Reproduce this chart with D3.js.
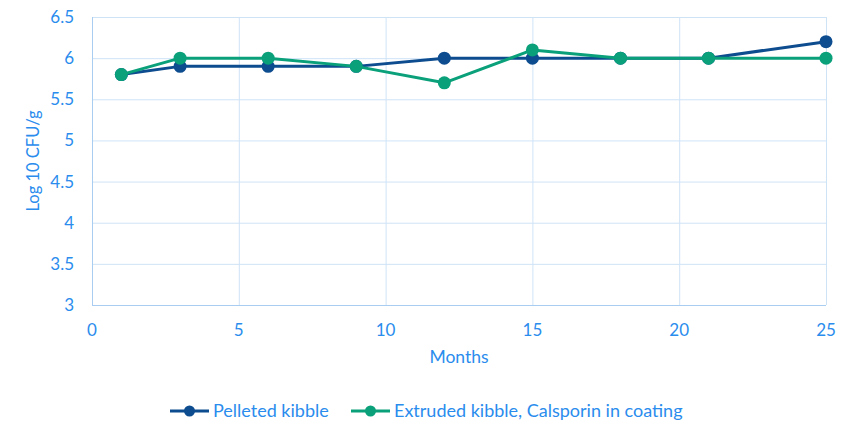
<!DOCTYPE html>
<html>
<head>
<meta charset="utf-8">
<script src="https://cdn.jsdelivr.net/npm/d3@7"></script>
<style>
  body { margin: 0; background: #fff; }
  text { font-family: Lato, "Open Sans", sans-serif; fill: #2a8ced; }
</style>
</head>
<body>
<div id="chart"></div>
<script>
// data
const months = [1, 3, 6, 9, 12, 15, 18, 21, 25];
const pelleted = [5.8, 5.9, 5.9, 5.9, 6.0, 6.0, 6.0, 6.0, 6.2];
const extruded = [5.8, 6.0, 6.0, 5.9, 5.7, 6.1, 6.0, 6.0, 6.0];
const seriesNames = ['Pelleted kibble', 'Extruded kibble, Calsporin in coating'];
const seriesColors = ['#0d4c8f', '#0aa07a'];
const xTicks = [0, 5, 10, 15, 20, 25];
const yTicks = [3, 3.5, 4, 4.5, 5, 5.5, 6, 6.5];

const W = 850, H = 427;
const m = {left: 92, right: 24, top: 17, bottom: 122};

const svg = d3.select('#chart').append('svg')
  .attr('width', W).attr('height', H);

const x = d3.scaleLinear().domain([0, 25]).range([m.left, W - m.right]);
const y = d3.scaleLinear().domain([3, 6.5]).range([H - m.bottom, m.top]);

const grid = svg.append('g');
grid.selectAll('.hg').data(yTicks).enter().append('line')
  .attr('x1', x(0)).attr('x2', x(25))
  .attr('y1', d => y(d) + 0.5).attr('y2', d => y(d) + 0.5)
  .attr('stroke', '#cfe3f7').attr('stroke-width', 1);
grid.selectAll('.vg').data(xTicks).enter().append('line')
  .attr('x1', d => x(d) + 0.5).attr('x2', d => x(d) + 0.5)
  .attr('y1', y(3)).attr('y2', y(6.5))
  .attr('stroke', d => d === 0 ? '#a9cdf0' : '#cfe3f7').attr('stroke-width', 1);
// bottom axis line
grid.append('line')
  .attr('x1', x(0)).attr('x2', x(25))
  .attr('y1', y(3) + 0.5).attr('y2', y(3) + 0.5)
  .attr('stroke', '#a9cdf0');

// tick labels
svg.selectAll('.yl').data(yTicks).enter().append('text')
  .attr('x', 74).attr('y', d => y(d) + 6)
  .attr('text-anchor', 'end').attr('font-size', 17)
  .text(d => d);
svg.selectAll('.xl').data(xTicks).enter().append('text')
  .attr('x', d => x(d)).attr('y', 336)
  .attr('text-anchor', 'middle').attr('font-size', 17)
  .text(d => d);

svg.append('text')
  .attr('transform', `translate(39, ${(y(3) + y(6.5)) / 2}) rotate(-90)`)
  .attr('text-anchor', 'middle').attr('font-size', 16.5)
  .text('Log 10 CFU/g');
svg.append('text')
  .attr('x', (x(0) + x(25)) / 2).attr('y', 363)
  .attr('text-anchor', 'middle').attr('font-size', 17.5)
  .text('Months');

const line = d3.line().x(d => x(d[0])).y(d => y(d[1]));
[pelleted, extruded].forEach((vals, i) => {
  const pts = months.map((mo, j) => [mo, vals[j]]);
  const g = svg.append('g');
  g.append('path').datum(pts)
    .attr('d', line).attr('fill', 'none')
    .attr('stroke', seriesColors[i]).attr('stroke-width', 3)
    .attr('stroke-linejoin', 'round');
  g.selectAll('circle').data(pts).enter().append('circle')
    .attr('cx', d => x(d[0])).attr('cy', d => y(d[1]))
    .attr('r', 6.5).attr('fill', seriesColors[i]);
});

// legend
const legX = [170, 351];
seriesNames.forEach((name, i) => {
  const lg = svg.append('g').attr('transform', `translate(${legX[i]}, 411)`);
  lg.append('line').attr('x1', 0).attr('x2', 39)
    .attr('stroke', seriesColors[i]).attr('stroke-width', 3);
  lg.append('circle').attr('cx', 19.5).attr('r', 5.5).attr('fill', seriesColors[i]);
  lg.append('text').attr('x', 43).attr('y', 6).attr('font-size', 18).text(name);
});
</script>
</body>
</html>
